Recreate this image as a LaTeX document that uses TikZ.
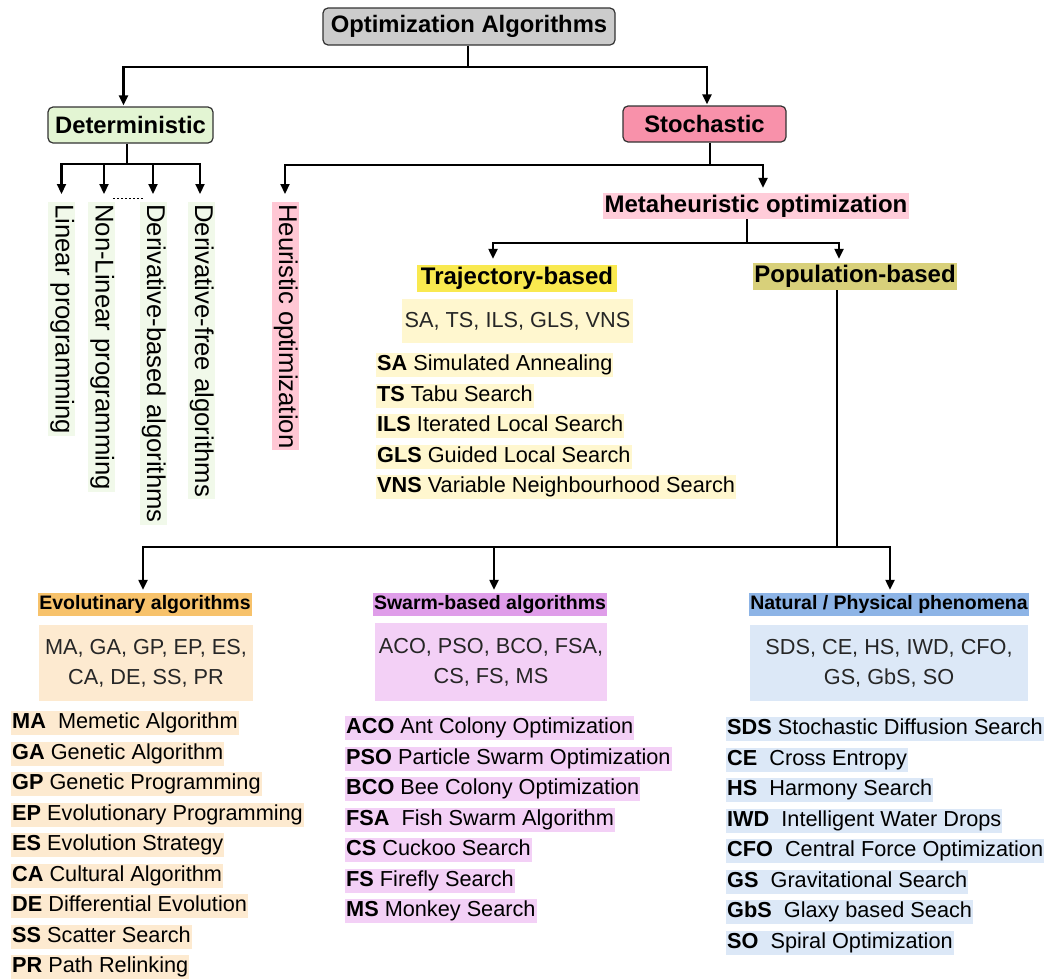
\documentclass[tikz,border=0pt]{standalone}
\usepackage{fontspec}
\setmainfont{Liberation Sans}
\usetikzlibrary{arrows.meta}
\definecolor{rootc}{HTML}{CCCCCC}
\definecolor{detc}{HTML}{E3F5D3}
\definecolor{stoc}{HTML}{F891AA}
\definecolor{leafc}{HTML}{F1F9EA}
\definecolor{heurc}{HTML}{FFC7D4}
\definecolor{metac}{HTML}{FFCCD9}
\definecolor{trajc}{HTML}{F9E94F}
\definecolor{trajl}{HTML}{FFF7CF}
\definecolor{popc}{HTML}{D8D07A}
\definecolor{evoh}{HTML}{F7C26B}
\definecolor{evol}{HTML}{FDEAD0}
\definecolor{swah}{HTML}{DF9DE9}
\definecolor{swal}{HTML}{F3D0F6}
\definecolor{nath}{HTML}{8DB4E6}
\definecolor{natl}{HTML}{DCE8F7}
\begin{document}
\begin{tikzpicture}[x=1pt,y=-1pt,
  line/.style={line width=2.2pt, black},
  arr/.style={line, -{Triangle[length=10pt,width=9pt]}},
  topbox/.style={draw=black!80, line width=1.2pt, rounded corners=5pt, inner sep=0pt, minimum height=37pt,
    font=\fontsize{23.8}{28}\selectfont\bfseries},
  hdr/.style={inner sep=0pt, font=\fontsize{24}{28}\selectfont\bfseries},
  subhdr/.style={inner sep=0pt, minimum height=23pt, font=\fontsize{19.5}{24}\selectfont\bfseries},
  abox/.style={inner sep=0pt, align=center, text=black!85, font=\fontsize{21.7}{30}\selectfont},
  item/.style={anchor=west, inner xsep=1pt, inner ysep=1.5pt, text height=16pt, text depth=5pt,
    font=\fontsize{21.7}{26}\selectfont},
  vlab/.style={rotate=-90, anchor=west, inner xsep=2pt, inner ysep=1.5pt, text height=18pt, text depth=6pt,
    font=\fontsize{25.7}{30}\selectfont}
]
\useasboundingbox (0,0) rectangle (1049,978);

% top levels
\node[topbox, fill=rootc, minimum width=292pt] (root) at (469,26.5) {Optimization Algorithms};
\node[topbox, fill=detc, minimum width=165pt, minimum height=36pt] (det) at (130.5,125) {Deterministic};
\node[topbox, fill=stoc, minimum width=163pt, minimum height=36pt] (sto) at (704.5,124) {Stochastic};

\coordinate (rbus) at (468,67);
\draw[line] ([xshift=-1pt]root.south) -- (rbus);
\draw[arr] (rbus) -| ([xshift=-7pt,yshift=1pt]det.north);
\draw[arr] (rbus) -| ([xshift=2.5pt,yshift=1pt]sto.north);

% deterministic leaves
\node[vlab, fill=leafc] (l1) at (61.5,202) {Linear programming};
\node[vlab, fill=leafc] (l2) at (101.5,202) {Non-Linear programming};
\node[vlab, fill=leafc] (l3) at (153,202) {Derivative-based algorithms};
\node[vlab, fill=leafc] (l4) at (201,202) {Derivative-free algorithms};

\coordinate (dbus) at (127,164);
\draw[line] ([xshift=-3.5pt]det.south) -- (dbus);
\draw[arr] (dbus) -| ([yshift=8pt]l1.west);
\draw[arr] (dbus) -| ([xshift=2.5pt,yshift=8pt]l2.west);
\draw[arr] (dbus) -| ([yshift=8pt]l3.west);
\draw[arr] (dbus) -| ([xshift=-1pt,yshift=8pt]l4.west);
\draw[line width=1pt, dash pattern=on 2pt off 2pt] (113,198) -- (143,198);

% stochastic branch
\node[vlab, fill=heurc] (heur) at (285,202) {Heuristic optimization};
\node[hdr, fill=metac, minimum width=306pt, minimum height=26pt] (meta) at (756,206) {Metaheuristic optimization};

\coordinate (sbus) at (710,165);
\draw[line] ([xshift=5.5pt]sto.south) -- (sbus);
\draw[arr] (sbus) -| ([yshift=8pt]heur.west);
\draw[arr] (sbus) -| ([xshift=7pt,yshift=5pt]meta.north);

\node[hdr, fill=trajc, minimum width=200pt, minimum height=27pt] (traj) at (517,278.5) {Trajectory-based};
\node[hdr, fill=popc, minimum width=204pt, minimum height=27pt] (pop) at (855,276.5) {Population-based};

\coordinate (mbus) at (747,243);
\draw[line] ([xshift=-9pt]meta.south) -- (mbus);
\draw[arr] (mbus) -| ([xshift=-24pt,yshift=6pt]traj.north);
\draw[arr] (mbus) -| ([xshift=-16pt,yshift=4pt]pop.north);

% trajectory details
\node[abox, fill=trajl, minimum width=231pt, minimum height=44pt] (trab) at (517.5,321) {SA, TS, ILS, GLS, VNS};
\node[item, fill=trajl] (t1) at (376,365) {\textbf{SA} Simulated Annealing};
\node[item, fill=trajl] (t2) at (376,395.5) {\textbf{TS} Tabu Search};
\node[item, fill=trajl] (t3) at (376,426) {\textbf{ILS} Iterated Local Search};
\node[item, fill=trajl] (t4) at (376,456.5) {\textbf{GLS} Guided Local Search};
\node[item, fill=trajl] (t5) at (376,487) {\textbf{VNS} Variable Neighbourhood Search};

% population-based families
\node[subhdr, fill=evoh, minimum width=214pt] (evo) at (145,604.5) {Evolutinary algorithms};
\node[subhdr, fill=swah, minimum width=234pt] (swa) at (490,604.5) {Swarm-based algorithms};
\node[subhdr, fill=nath, minimum width=280pt] (nat) at (889,604.5) {Natural / Physical phenomena};

\coordinate (pbus) at (837,547);
\draw[line] ([xshift=-18pt]pop.south) -- (pbus);
\draw[arr] (pbus) -| ([xshift=-2pt,yshift=3pt]evo.north);
\draw[arr] (pbus) -| ([xshift=4pt,yshift=3pt]swa.north);
\draw[arr] (pbus) -| ([xshift=1pt,yshift=3pt]nat.north);

\node[abox, fill=evol, minimum width=214pt, minimum height=76pt] (evab) at (146,663) {MA, GA, GP, EP, ES,\\CA, DE, SS, PR};
\node[abox, fill=swal, minimum width=232pt, minimum height=78pt] (swab) at (491,662) {ACO, PSO, BCO, FSA,\\CS, FS, MS};
\node[abox, fill=natl, minimum width=278pt, minimum height=76pt] (naab) at (889,663) {SDS, CE, HS, IWD, CFO,\\GS, GbS, SO};

% evolutionary list
\node[item, fill=evol] (e1) at (11,723) {\textbf{MA}\ \ Memetic Algorithm};
\node[item, fill=evol] (e2) at (11,753.5) {\textbf{GA} Genetic Algorithm};
\node[item, fill=evol] (e3) at (11,784) {\textbf{GP} Genetic Programming};
\node[item, fill=evol] (e4) at (11,814.5) {\textbf{EP} Evolutionary Programming};
\node[item, fill=evol] (e5) at (11,845) {\textbf{ES} Evolution Strategy};
\node[item, fill=evol] (e6) at (11,875.5) {\textbf{CA} Cultural Algorithm};
\node[item, fill=evol] (e7) at (11,906) {\textbf{DE} Differential Evolution};
\node[item, fill=evol] (e8) at (11,936.5) {\textbf{SS} Scatter Search};
\node[item, fill=evol] (e9) at (11,967) {\textbf{PR} Path Relinking};

% swarm list
\node[item, fill=swal] (s1) at (345,728) {\textbf{ACO} Ant Colony Optimization};
\node[item, fill=swal] (s2) at (345,758.5) {\textbf{PSO} Particle Swarm Optimization};
\node[item, fill=swal] (s3) at (345,789) {\textbf{BCO} Bee Colony Optimization};
\node[item, fill=swal] (s4) at (345,819.5) {\textbf{FSA}\ \ Fish Swarm Algorithm\ };
\node[item, fill=swal] (s5) at (345,850) {\textbf{CS} Cuckoo Search};
\node[item, fill=swal] (s6) at (345,880.5) {\textbf{FS} Firefly Search};
\node[item, fill=swal] (s7) at (345,911) {\textbf{MS} Monkey Search};

% natural list
\node[item, fill=natl] (n1) at (726,729) {\textbf{SDS} Stochastic Diffusion Search};
\node[item, fill=natl] (n2) at (726,759.5) {\textbf{CE}\ \ Cross Entropy\ };
\node[item, fill=natl] (n3) at (726,790) {\textbf{HS}\ \ Harmony Search\ };
\node[item, fill=natl] (n4) at (726,820.5) {\textbf{IWD}\ \ Intelligent Water Drops\ };
\node[item, fill=natl] (n5) at (726,851) {\textbf{CFO}\ \ Central Force Optimization};
\node[item, fill=natl] (n6) at (726,881.5) {\textbf{GS}\ \ Gravitational Search};
\node[item, fill=natl] (n7) at (726,912) {\textbf{GbS}\ \ Glaxy based Seach};
\node[item, fill=natl] (n8) at (726,942.5) {\textbf{SO}\ \ Spiral Optimization};
\end{tikzpicture}
\end{document}
